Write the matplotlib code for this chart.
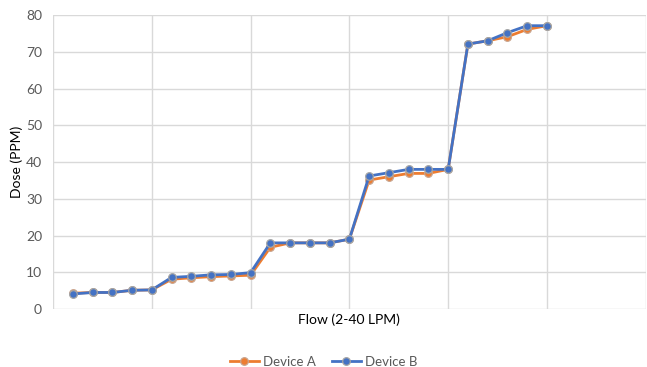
import matplotlib.pyplot as plt

# flow step index (2-40 LPM sweep)
flow_step = list(range(1, 26))

device_a = [4.3, 4.5, 4.5, 5.1, 5.2,
            8.1, 8.5, 8.8, 9.0, 9.2,
            16.8, 18.0, 18.0, 18.0, 19.0,
            35.1, 36.0, 36.9, 36.9, 38.0,
            72.1, 73.0, 74.1, 76.1, 77.1]

device_b = [4.1, 4.5, 4.5, 5.1, 5.2,
            8.6, 8.9, 9.3, 9.4, 9.9,
            18.0, 18.0, 18.0, 18.0, 19.0,
            36.2, 37.1, 38.0, 38.0, 38.0,
            72.1, 73.0, 75.2, 77.1, 77.1]

plt.rcParams['font.family'] = ['Lato', 'DejaVu Sans']

fig = plt.figure(figsize=(6.47, 3.67), dpi=100)
ax = fig.add_axes([0.082, 0.158, 0.916, 0.801])

ax.plot(flow_step, device_a, color='#ED7D31', linewidth=2, marker='o',
        markersize=5.5, markerfacecolor='#ED7D31', markeredgecolor='#C9A58F',
        markeredgewidth=0.9, label='Device A', zorder=3)
ax.plot(flow_step, device_b, color='#4472C4', linewidth=2, marker='o',
        markersize=5.5, markerfacecolor='#4472C4', markeredgecolor='#A5A5A5',
        markeredgewidth=0.9, label='Device B', zorder=4)

ax.set_xlim(0, 30)
ax.set_ylim(0, 80)
ax.set_xticks(range(0, 31, 5))
ax.set_xticklabels([])
ax.set_yticks(range(0, 81, 10))
ax.grid(True, color='#D9D9D9', linewidth=1)
ax.set_axisbelow(True)
ax.tick_params(length=0, labelsize=10, labelcolor='#595959', pad=8)
for side in ax.spines:
    ax.spines[side].set_visible(False)

ax.set_xlabel('Flow (2-40 LPM)', fontsize=10, color='black')
ax.xaxis.set_label_coords(0.5, -0.015)
ax.set_ylabel('Dose (PPM)', fontsize=10, color='black')
ax.yaxis.set_label_coords(-0.05, 0.5)

fig.legend(loc='lower center', bbox_to_anchor=(0.5, -0.035), ncol=2,
           frameon=False, fontsize=9.5, labelcolor='#595959',
           handlelength=2.2, columnspacing=1.2, handletextpad=0.3)

plt.savefig('out.png', dpi=100)
